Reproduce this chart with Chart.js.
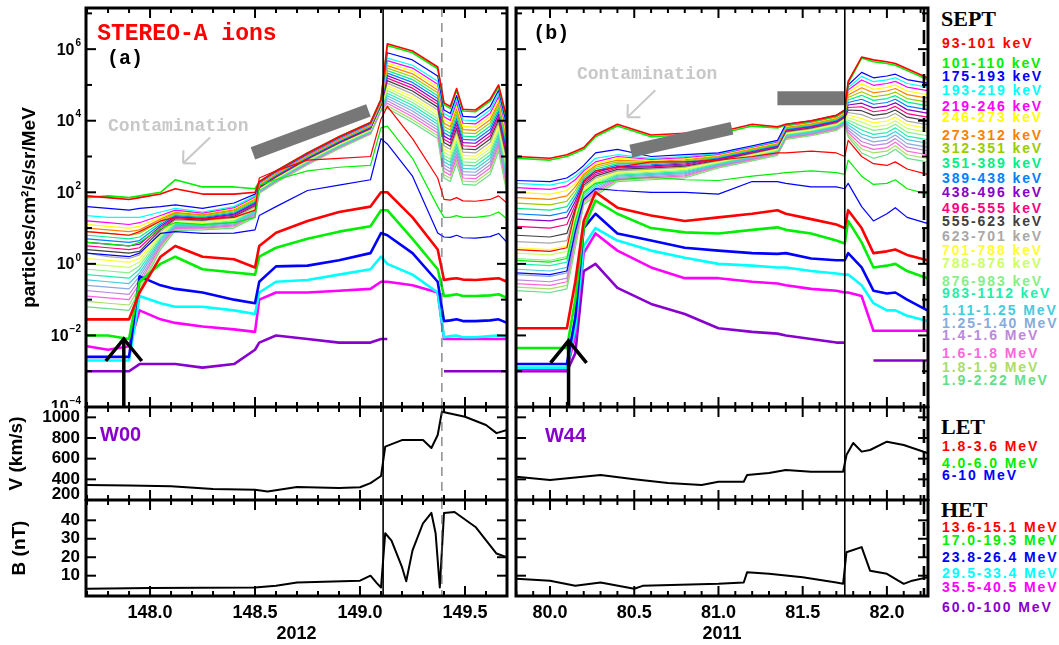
<!DOCTYPE html>
<html>
<head>
<meta charset="utf-8">
<title>STEREO-A ions</title>
<script src="https://cdn.jsdelivr.net/npm/chart.js@4.4.1/dist/chart.umd.min.js"></script>
<style>
  html, body { margin: 0; padding: 0; background: #fff; }
  body { position: relative; width: 1059px; height: 645px; overflow: hidden; }
  canvas { position: absolute; }
  .leg { position: absolute; left: 942px; font: bold 14px "Liberation Sans", Arial, sans-serif; letter-spacing: 1.9px; white-space: nowrap; line-height: 14px; }
  .hdr { position: absolute; left: 941px; font: bold 22px "Liberation Serif", serif; color: #000; line-height: 22px; }
</style>
</head>
<body>
<canvas id="aTop" width="510" height="408" style="left:0;top:0"></canvas>
<canvas id="aV" width="510" height="95" style="left:0;top:406px"></canvas>
<canvas id="aB" width="510" height="146" style="left:0;top:499px"></canvas>
<canvas id="bTop" width="420" height="408" style="left:510px;top:0"></canvas>
<canvas id="bV" width="420" height="95" style="left:510px;top:406px"></canvas>
<canvas id="bB" width="420" height="146" style="left:510px;top:499px"></canvas>
<div id="legend"></div>
<script>
// ---- channels ----
const septLabels = ['93-101 keV', '101-110 keV', '175-193 keV', '193-219 keV', '219-246 keV', '246-273 keV',
  '273-312 keV', '312-351 keV', '351-389 keV', '389-438 keV', '438-496 keV', '496-555 keV', '555-623 keV',
  '623-701 keV', '701-788 keV', '788-876 keV', '876-983 keV', '983-1112 keV', '1.11-1.25 MeV', '1.25-1.40 MeV',
  '1.4-1.6 MeV', '1.6-1.8 MeV', '1.8-1.9 MeV', '1.9-2.22 MeV'];
const septColors = ['#ff0000', '#00ee00', '#0000ff', '#00ffff', '#ff00ff', '#ffff00', '#ff8000', '#99cc00',
  '#00ee88', '#0080ff', '#8800cc', '#ff0080', '#404040', '#a8a8a8', '#ffff33', '#ccff66', '#88ee88', '#22eeaa',
  '#44ccdd', '#88aadd', '#bb88dd', '#ff66dd', '#aadd66', '#66dd88'];
const letLabels = ['1.8-3.6 MeV', '4.0-6.0 MeV', '6-10 MeV'];
const letColors = ['#ff0000', '#00ee00', '#0000ff'];
const hetLabels = ['13.6-15.1 MeV', '17.0-19.3 MeV', '23.8-26.4 MeV', '29.5-33.4 MeV', '35.5-40.5 MeV', '60.0-100 MeV'];
const hetColors = ['#ff0000', '#00ee00', '#0000ff', '#00ffff', '#ff00ff', '#8800cc'];

// ---- panel (a), 2012 DOY; fluxes stored as log10 ----
const timeA = [147.70, 147.80, 147.90, 147.95, 148.05, 148.12, 148.25, 148.40, 148.50, 148.52, 148.60, 148.75,
  148.90, 149.05, 149.10, 149.13, 149.25, 149.37, 149.40, 149.43, 149.46, 149.49, 149.55, 149.62, 149.66, 149.70];
const septA = [
  [1.9, 1.85, 1.8, 1.85, 1.95, 2.1, 1.95, 1.95, 2.0, 2.3, 2.6, 3.1, 3.55, 3.95, 4.6, 6.15, 5.95, 5.5, 4.5, 4.4, 4.9, 4.32, 4.3, 4.6, 5.0, 4.05],
  [1.85, 1.9, 1.85, 1.9, 2.0, 2.35, 2.15, 2.15, 2.1, 2.3, 2.6, 3.1, 3.55, 3.95, 4.6, 6.1, 5.9, 5.45, 4.45, 4.35, 4.85, 4.27, 4.25, 4.55, 4.95, 4.0],
  [1.6, 1.55, 1.5, 1.55, 1.6, 1.65, 1.55, 1.7, 1.95, 2.28, 2.58, 3.08, 3.53, 3.93, 4.58, 5.9, 5.7, 5.25, 4.3, 4.2, 4.7, 4.12, 4.1, 4.4, 4.85, 3.85],
  [1.35, 1.3, 1.3, 1.3, 1.45, 1.55, 1.45, 1.6, 1.9, 2.27, 2.57, 3.07, 3.52, 3.92, 4.57, 5.75, 5.55, 5.1, 4.2, 4.1, 4.6, 4.02, 4.0, 4.3, 4.75, 3.75],
  [1.2, 1.15, 1.1, 1.15, 1.35, 1.5, 1.42, 1.57, 1.87, 2.25, 2.55, 3.05, 3.5, 3.9, 4.55, 5.68, 5.47, 5.02, 4.11, 4.01, 4.51, 3.93, 3.91, 4.21, 4.67, 3.66],
  [1.1, 1.05, 1.0, 1.05, 1.3, 1.47, 1.4, 1.54, 1.84, 2.24, 2.54, 3.04, 3.49, 3.89, 4.54, 5.61, 5.39, 4.94, 4.02, 3.92, 4.42, 3.84, 3.82, 4.12, 4.59, 3.57],
  [1.0, 0.95, 0.9, 0.95, 1.25, 1.44, 1.37, 1.51, 1.81, 2.22, 2.52, 3.02, 3.47, 3.87, 4.52, 5.54, 5.31, 4.86, 3.93, 3.83, 4.33, 3.75, 3.73, 4.03, 4.51, 3.48],
  [0.9, 0.85, 0.8, 0.85, 1.2, 1.41, 1.35, 1.48, 1.78, 2.21, 2.51, 3.01, 3.46, 3.86, 4.51, 5.47, 5.23, 4.78, 3.84, 3.74, 4.24, 3.66, 3.64, 3.94, 4.43, 3.39],
  [0.8, 0.75, 0.7, 0.75, 1.15, 1.38, 1.32, 1.45, 1.75, 2.19, 2.49, 2.99, 3.44, 3.84, 4.49, 5.4, 5.15, 4.7, 3.75, 3.65, 4.15, 3.57, 3.55, 3.85, 4.35, 3.3],
  [0.7, 0.65, 0.6, 0.65, 1.1, 1.35, 1.3, 1.42, 1.72, 2.18, 2.48, 2.98, 3.43, 3.83, 4.48, 5.33, 5.07, 4.62, 3.66, 3.56, 4.06, 3.48, 3.46, 3.76, 4.27, 3.21],
  [0.6, 0.55, 0.5, 0.55, 1.05, 1.32, 1.27, 1.39, 1.69, 2.16, 2.46, 2.96, 3.41, 3.81, 4.46, 5.26, 4.99, 4.54, 3.57, 3.47, 3.97, 3.39, 3.37, 3.67, 4.19, 3.12],
  [0.5, 0.45, 0.4, 0.45, 1.0, 1.29, 1.25, 1.36, 1.66, 2.15, 2.45, 2.95, 3.4, 3.8, 4.45, 5.19, 4.91, 4.46, 3.48, 3.38, 3.88, 3.3, 3.28, 3.58, 4.11, 3.03],
  [0.4, 0.35, 0.3, 0.35, 0.95, 1.26, 1.22, 1.33, 1.63, 2.13, 2.43, 2.93, 3.38, 3.78, 4.43, 5.12, 4.83, 4.38, 3.39, 3.29, 3.79, 3.21, 3.19, 3.49, 4.03, 2.94],
  [0.3, 0.2, 0.15, 0.25, 0.9, 1.23, 1.2, 1.3, 1.6, 2.12, 2.42, 2.92, 3.37, 3.77, 4.42, 5.05, 4.75, 4.3, 3.3, 3.2, 3.7, 3.12, 3.1, 3.4, 3.95, 2.85],
  [0.15, 0.1, 0.05, 0.15, 0.85, 1.2, 1.17, 1.27, 1.57, 2.1, 2.4, 2.9, 3.35, 3.75, 4.4, 4.98, 4.67, 4.22, 3.21, 3.11, 3.61, 3.03, 3.01, 3.31, 3.87, 2.76],
  [0.0, -0.05, -0.1, 0.05, 0.8, 1.17, 1.15, 1.24, 1.54, 2.09, 2.39, 2.89, 3.34, 3.74, 4.39, 4.91, 4.59, 4.14, 3.12, 3.02, 3.52, 2.94, 2.92, 3.22, 3.79, 2.67],
  [-0.15, -0.2, -0.25, -0.05, 0.75, 1.14, 1.12, 1.21, 1.51, 2.07, 2.37, 2.87, 3.32, 3.72, 4.37, 4.84, 4.51, 4.06, 3.03, 2.93, 3.43, 2.85, 2.83, 3.13, 3.71, 2.58],
  [-0.3, -0.35, -0.4, -0.15, 0.7, 1.11, 1.1, 1.18, 1.48, 2.06, 2.36, 2.86, 3.31, 3.71, 4.36, 4.77, 4.43, 3.98, 2.94, 2.84, 3.34, 2.76, 2.74, 3.04, 3.63, 2.49],
  [-0.45, -0.5, -0.55, -0.25, 0.65, 1.08, 1.07, 1.15, 1.45, 2.04, 2.34, 2.84, 3.29, 3.69, 4.34, 4.7, 4.35, 3.9, 2.85, 2.75, 3.25, 2.67, 2.65, 2.95, 3.55, 2.4],
  [-0.6, -0.65, -0.7, -0.35, 0.6, 1.05, 1.05, 1.12, 1.42, 2.03, 2.33, 2.83, 3.28, 3.68, 4.33, 4.63, 4.27, 3.82, 2.76, 2.66, 3.16, 2.58, 2.56, 2.86, 3.47, 2.31],
  [-0.75, -0.8, -0.85, -0.45, 0.55, 1.02, 1.02, 1.09, 1.39, 2.01, 2.31, 2.81, 3.26, 3.66, 4.31, 4.56, 4.19, 3.74, 2.67, 2.57, 3.07, 2.49, 2.47, 2.77, 3.39, 2.22],
  [-0.9, -0.95, -1.0, -0.55, 0.5, 0.99, 1.0, 1.06, 1.36, 2.0, 2.3, 2.8, 3.25, 3.65, 4.3, 4.49, 4.11, 3.66, 2.58, 2.48, 2.98, 2.4, 2.38, 2.68, 3.31, 2.13],
  [-1.05, -1.1, -1.15, -0.65, 0.45, 0.96, 0.97, 1.03, 1.33, 1.98, 2.28, 2.78, 3.23, 3.63, 4.28, 4.42, 4.03, 3.58, 2.49, 2.39, 2.89, 2.31, 2.29, 2.59, 3.23, 2.04],
  [-1.2, -1.25, -1.3, -0.75, 0.4, 0.93, 0.95, 1.0, 1.3, 1.97, 2.27, 2.77, 3.22, 3.62, 4.27, 4.35, 3.95, 3.5, 2.4, 2.3, 2.8, 2.22, 2.2, 2.5, 3.15, 1.95]
];
const letA = [
  [0.9, 0.85, 0.8, 0.9, 1.2, 1.3, 1.25, 1.3, 1.5, 2.4, 2.6, 2.9, 2.95, 3.0, 4.05, 4.4, 3.5, 2.4, 1.8, 1.78, 1.85, 1.76, 1.75, 1.8, 1.9, 1.7],
  [0.6, 0.55, 0.5, 0.6, 1.0, 1.15, 1.1, 1.15, 1.3, 2.2, 2.35, 2.6, 2.7, 2.75, 3.8, 3.85, 2.95, 1.6, 1.3, 1.3, 1.35, 1.3, 1.3, 1.35, 1.45, 1.25],
  [0.3, 0.25, 0.2, 0.3, 0.85, 0.9, 0.85, 0.86, 0.95, 1.35, 1.6, 2.05, 2.2, 2.35, 3.5, 3.35, 2.45, 0.86, 0.75, 0.74, 0.8, 0.73, 0.72, 0.76, 0.85, 0.6]
];
const hetA = [
  [-1.55, -1.55, -1.55, -0.8, 0.2, 0.5, 0.2, 0.13, -0.1, 0.5, 0.87, 1.2, 1.45, 1.6, 2.0, 2.0, 1.3, 0.4, -0.45, -0.42, -0.4, -0.44, -0.45, -0.42, -0.4, -0.5],
  [-2.0, -2.0, -2.1, -0.5, 0.0, 0.2, -0.15, -0.24, -0.3, 0.2, 0.45, 0.7, 0.9, 1.05, 1.5, 1.5, 0.7, -0.15, -0.9, -0.88, -0.85, -0.9, -0.9, -0.88, -0.85, -0.95],
  [-2.6, -2.6, -2.6, -0.35, -0.6, -0.7, -0.8, -1.0, -1.1, -0.5, -0.07, -0.05, 0.1, 0.3, 0.86, 0.8, 0.3, -0.5, -1.6, -1.58, -1.55, -1.6, -1.6, -1.58, -1.55, -1.65],
  [-2.7, -2.7, -2.7, -0.9, -1.1, -1.2, -1.2, -1.3, -1.4, -0.8, -0.5, -0.45, -0.3, -0.15, 0.2, 0.0, -0.3, -0.8, -2.05, -2.02, -2.0, -2.05, -2.05, -2.02, -2.0, -2.05],
  [-2.3, -2.4, -2.3, -1.3, -1.55, -1.65, -1.75, -1.83, -1.9, -1.0, -0.8, -0.8, -0.75, -0.7, -0.5, -0.5, -0.6, -0.8, -2.1, -2.1, -2.1, -2.1, -2.1, -2.1, -2.1, -2.1],
  [-3.0, -3.0, -3.0, -2.8, -2.8, -2.8, -2.9, -2.8, -2.4, -2.2, -2.0, -2.1, -2.2, -2.2, -2.1, -2.1, null, null, -3.0, -3.0, -3.0, -3.0, -3.0, -3.0, -3.0, -3.0]
];
const timeVa = [147.70, 147.90, 148.10, 148.30, 148.50, 148.56, 148.70, 148.90, 149.00, 149.05, 149.10, 149.12,
  149.20, 149.30, 149.34, 149.37, 149.39, 149.50, 149.60, 149.65, 149.70];
const speedA = [345, 340, 332, 306, 300, 282, 326, 316, 323, 364, 432, 716, 780, 780, 703, 829, 1055, 1006, 926, 847, 877];
const timeBa = [147.70, 148.00, 148.50, 148.60, 148.70, 149.00, 149.05, 149.08, 149.10, 149.12, 149.15, 149.20,
  149.22, 149.25, 149.30, 149.34, 149.36, 149.38, 149.40, 149.45, 149.55, 149.65, 149.70];
const fieldA = [2.9, 3.4, 3.6, 4.5, 6.3, 7.3, 10, 6, 3.6, 33, 29, 14.6, 7, 23.7, 38.4, 44, 33, 3.6, 44, 44.5, 36.4, 22, 20];

// ---- panel (b), 2011 DOY ----
const timeB = [79.80, 80.00, 80.10, 80.15, 80.20, 80.27, 80.40, 80.60, 80.80, 81.00, 81.20, 81.35, 81.40, 81.55,
  81.70, 81.75, 81.77, 81.85, 81.92, 82.00, 82.05, 82.12, 82.24];
const septB = [
  [3.0, 2.95, 3.05, 3.15, 3.25, 3.6, 3.9, 3.6, 3.65, 3.68, 3.9, 3.83, 3.9, 4.0, 4.15, 4.3, 5.1, 5.78, 5.7, 5.65, 5.6, 5.45, 5.2],
  [2.95, 2.9, 3.0, 3.1, 3.2, 3.55, 3.85, 3.55, 3.6, 3.63, 3.85, 3.8, 3.88, 3.98, 4.12, 4.28, 5.05, 5.75, 5.65, 5.6, 5.55, 5.4, 5.15],
  [2.33, 2.3, 2.4, 2.55, 2.75, 3.1, 3.2, 3.0, 3.05, 3.1, 3.3, 3.45, 3.9, 4.0, 4.15, 4.3, 5.0, 5.35, 5.2, 5.25, 5.3, 5.15, 5.05],
  [2.25, 2.2, 2.3, 2.45, 2.65, 2.95, 3.05, 2.95, 3.0, 3.08, 3.28, 3.43, 3.88, 3.98, 4.13, 4.28, 4.93, 5.24, 5.09, 5.14, 5.2, 5.04, 4.94],
  [2.13, 2.08, 2.18, 2.35, 2.6, 2.85, 3.0, 2.92, 2.97, 3.06, 3.26, 3.41, 3.86, 3.96, 4.11, 4.26, 4.86, 5.14, 4.99, 5.04, 5.1, 4.94, 4.84],
  [2.0, 1.95, 2.05, 2.25, 2.55, 2.8, 2.95, 2.89, 2.94, 3.04, 3.24, 3.39, 3.84, 3.94, 4.09, 4.24, 4.79, 5.03, 4.88, 4.93, 5.0, 4.83, 4.73],
  [1.85, 1.8, 1.9, 2.15, 2.5, 2.75, 2.9, 2.86, 2.91, 3.02, 3.22, 3.37, 3.82, 3.92, 4.07, 4.22, 4.72, 4.92, 4.78, 4.83, 4.9, 4.73, 4.63],
  [1.7, 1.65, 1.75, 2.05, 2.45, 2.7, 2.85, 2.83, 2.88, 3.0, 3.2, 3.35, 3.8, 3.9, 4.05, 4.2, 4.65, 4.81, 4.67, 4.72, 4.8, 4.62, 4.52],
  [1.55, 1.5, 1.6, 1.95, 2.4, 2.65, 2.8, 2.8, 2.85, 2.98, 3.18, 3.33, 3.78, 3.88, 4.03, 4.18, 4.58, 4.71, 4.57, 4.62, 4.7, 4.52, 4.42],
  [1.4, 1.35, 1.45, 1.85, 2.35, 2.6, 2.76, 2.77, 2.82, 2.96, 3.16, 3.31, 3.76, 3.86, 4.01, 4.16, 4.51, 4.6, 4.46, 4.51, 4.6, 4.41, 4.31],
  [1.25, 1.2, 1.3, 1.75, 2.3, 2.55, 2.72, 2.74, 2.79, 2.94, 3.14, 3.29, 3.74, 3.84, 3.99, 4.14, 4.44, 4.49, 4.36, 4.41, 4.5, 4.31, 4.21],
  [1.05, 1.0, 1.1, 1.65, 2.25, 2.5, 2.68, 2.71, 2.76, 2.92, 3.12, 3.27, 3.72, 3.82, 3.97, 4.12, 4.37, 4.39, 4.25, 4.3, 4.4, 4.2, 4.1],
  [0.8, 0.75, 0.85, 1.55, 2.2, 2.45, 2.64, 2.68, 2.73, 2.9, 3.1, 3.25, 3.7, 3.8, 3.95, 4.1, 4.3, 4.28, 4.15, 4.2, 4.3, 4.1, 4.0],
  [0.62, 0.58, 0.65, 1.45, 2.15, 2.4, 2.6, 2.65, 2.7, 2.88, 3.08, 3.23, 3.68, 3.78, 3.93, 4.08, 4.23, 4.17, 4.04, 4.09, 4.2, 3.99, 3.89],
  [0.45, 0.4, 0.5, 1.35, 2.1, 2.35, 2.57, 2.62, 2.67, 2.86, 3.06, 3.21, 3.66, 3.76, 3.91, 4.06, 4.16, 4.06, 3.94, 3.99, 4.1, 3.89, 3.79],
  [0.3, 0.25, 0.35, 1.25, 2.05, 2.3, 2.54, 2.59, 2.64, 2.84, 3.04, 3.19, 3.64, 3.74, 3.89, 4.04, 4.09, 3.96, 3.83, 3.88, 4.0, 3.78, 3.68],
  [0.15, 0.1, 0.2, 1.15, 2.0, 2.25, 2.51, 2.56, 2.61, 2.82, 3.02, 3.17, 3.62, 3.72, 3.87, 4.02, 4.02, 3.85, 3.73, 3.78, 3.9, 3.68, 3.58],
  [0.0, -0.05, 0.05, 1.05, 1.95, 2.2, 2.48, 2.53, 2.58, 2.8, 3.0, 3.15, 3.6, 3.7, 3.85, 4.0, 3.95, 3.74, 3.62, 3.67, 3.8, 3.57, 3.47],
  [-0.15, -0.2, -0.1, 0.95, 1.9, 2.15, 2.45, 2.5, 2.55, 2.78, 2.98, 3.13, 3.58, 3.68, 3.83, 3.98, 3.88, 3.63, 3.52, 3.57, 3.7, 3.47, 3.37],
  [-0.3, -0.35, -0.25, 0.85, 1.85, 2.1, 2.42, 2.47, 2.52, 2.76, 2.96, 3.11, 3.56, 3.66, 3.81, 3.96, 3.81, 3.53, 3.41, 3.46, 3.6, 3.36, 3.26],
  [-0.45, -0.5, -0.4, 0.75, 1.8, 2.05, 2.39, 2.44, 2.49, 2.74, 2.94, 3.09, 3.54, 3.64, 3.79, 3.94, 3.74, 3.42, 3.31, 3.36, 3.5, 3.26, 3.16],
  [-0.55, -0.6, -0.5, 0.65, 1.75, 2.0, 2.36, 2.41, 2.46, 2.72, 2.92, 3.07, 3.52, 3.62, 3.77, 3.92, 3.67, 3.31, 3.2, 3.25, 3.4, 3.15, 3.05],
  [-0.65, -0.7, -0.6, 0.55, 1.7, 1.95, 2.33, 2.38, 2.43, 2.7, 2.9, 3.05, 3.5, 3.6, 3.75, 3.9, 3.6, 3.21, 3.1, 3.15, 3.3, 3.05, 2.95],
  [-0.75, -0.8, -0.7, 0.45, 1.65, 1.9, 2.3, 2.35, 2.4, 2.68, 2.88, 3.03, 3.48, 3.58, 3.73, 3.88, 3.55, 3.1, 2.95, 3.05, 3.2, 2.95, 2.85]
];
const letB = [
  [0.4, 0.35, 0.45, 1.5, 2.3, 2.6, 2.7, 2.85, 2.85, 2.9, 3.0, 3.1, 3.1, 3.15, 3.1, 3.0, 3.45, 3.0, 2.8, 2.75, 2.85, 2.65, 2.5],
  [0.1, 0.05, 0.15, 1.2, 2.0, 2.25, 2.35, 2.42, 2.35, 2.33, 2.45, 2.52, 2.55, 2.6, 2.55, 2.5, 2.9, 2.45, 2.22, 2.25, 2.35, 2.1, 1.95],
  [-0.25, -0.3, -0.2, 0.9, 1.8, 2.1, 2.05, 2.0, 2.0, 1.95, 2.3, 2.3, 2.25, 2.15, 2.15, 2.1, 2.25, 1.6, 1.2, 1.4, 1.57, 1.3, 1.13]
];
const hetB = [
  [-1.8, -1.8, -1.8, -0.5, 1.2, 2.0, 1.57, 1.35, 1.2, 1.3, 1.4, 1.5, 1.4, 1.25, 1.1, 1.0, 1.5, 1.0, 0.3, 0.35, 0.4, 0.25, 0.1],
  [-2.35, -2.35, -2.35, -1.0, 1.0, 1.77, 1.4, 1.0, 0.88, 0.85, 0.95, 1.02, 0.95, 0.85, 0.65, 0.57, 1.2, 0.6, -0.1, -0.05, 0.0, -0.2, -0.4],
  [-2.8, -2.8, -2.8, -1.5, 1.0, 1.4, 0.85, 0.65, 0.45, 0.37, 0.3, 0.28, 0.3, 0.15, 0.1, 0.1, 0.3, -0.1, -0.75, -0.83, -0.8, -1.0, -1.3],
  [-2.9, -2.9, -2.9, -1.8, 0.5, 1.0, 0.65, 0.37, 0.17, 0.0, -0.05, -0.1, -0.1, -0.2, -0.27, -0.3, -0.3, -0.6, -1.1, -1.3, -1.3, -1.45, -1.6],
  [-2.95, -2.95, -2.95, -2.0, 0.3, 0.85, 0.37, -0.1, -0.4, -0.4, -0.5, -0.55, -0.6, -0.7, -0.75, -0.8, -0.8, -0.9, -1.87, -1.87, -1.87, -1.87, -1.87],
  [-3.0, -3.0, -3.0, -2.5, -0.2, 0.0, -0.67, -1.12, -1.4, -1.8, -1.9, -1.95, -2.0, -2.1, -2.2, -2.2, null, null, -2.7, -2.7, -2.7, -2.7, -2.7]
];
const timeVb = [79.80, 80.00, 80.30, 80.50, 80.70, 80.90, 81.00, 81.15, 81.17, 81.30, 81.40, 81.55, 81.74, 81.76,
  81.80, 81.85, 81.90, 82.00, 82.10, 82.24];
const speedB = [425, 394, 442, 400, 365, 345, 377, 377, 442, 461, 490, 474, 474, 636, 752, 668, 684, 764, 732, 655];
const timeBb = [79.80, 80.00, 80.15, 80.30, 80.50, 80.55, 81.00, 81.15, 81.17, 81.30, 81.50, 81.70, 81.74, 81.76,
  81.85, 81.90, 82.00, 82.10, 82.15, 82.24];
const fieldB = [8.4, 7.3, 4.5, 6.3, 2.9, 4.5, 5.6, 6.3, 11.8, 11, 9.1, 6.3, 5.6, 22.7, 25.5, 12.7, 11, 5.6, 7.3, 9.1];

// ---- tick values ----
const xTicksA = [148.0, 148.5, 149.0, 149.5];
const xTicksB = [80.0, 80.5, 81.0, 81.5, 82.0];
const speedTicks = [200, 400, 600, 800, 1000];
const fieldTicks = [10, 20, 30, 40];
const logLabelExps = [-4, -2, 0, 2, 4, 6];

// ---- helpers ----
const SANS = '"Liberation Sans", Arial, sans-serif';
const MONO = '"Liberation Mono", "Courier New", monospace';
const font = (size) => ({ family: SANS, size, weight: 'bold' });
const logPts = (t, v) => t.map((x, i) => ({ x, y: v[i] == null ? null : Math.pow(10, v[i]) }));
const linPts = (t, v) => t.map((x, i) => ({ x, y: v[i] }));

function fluxSets(t, sept, lets, het) {
  const ds = [];
  het.forEach((r, i) => ds.push({ label: hetLabels[i], data: logPts(t, r), borderColor: hetColors[i], borderWidth: 2.6 }));
  lets.forEach((r, i) => ds.push({ label: letLabels[i], data: logPts(t, r), borderColor: letColors[i], borderWidth: 1.2 }));
  sept.forEach((r, i) => ds.push({ label: septLabels[i], data: logPts(t, r), borderColor: septColors[i], borderWidth: i < 2 ? 1.6 : 1.2 }));
  return ds;
}

const logTicks = [];
for (let e = -4; e <= 7; e++) logTicks.push([Math.pow(10, e), e % 2 === 0 ? 10 : 6]);

function deco(cfg) {
  return {
    id: 'deco',
    afterDraw(chart) {
      const c = chart.ctx, a = chart.chartArea, sx = chart.scales.x, sy = chart.scales.y;
      const X = v => sx.getPixelForValue(v), Y = v => sy.getPixelForValue(v);
      const seg = (x0, y0, x1, y1) => { c.beginPath(); c.moveTo(x0, y0); c.lineTo(x1, y1); c.stroke(); };

      c.save();
      c.beginPath(); c.rect(a.left, a.top, a.right - a.left, a.bottom - a.top); c.clip();
      (cfg.bars || []).forEach(b => {
        c.strokeStyle = '#777'; c.lineWidth = b.w; c.lineCap = 'butt';
        seg(X(b.x0), Y(b.y0), X(b.x1), Y(b.y1));
      });
      (cfg.vlines || []).forEach(l => {
        c.strokeStyle = l.color; c.lineWidth = l.w; c.setLineDash(l.dash || []);
        seg(X(l.x), a.top, X(l.x), a.bottom);
      });
      c.setLineDash([]);
      if (cfg.arrow) {
        const px = X(cfg.arrow.x), tip = Y(cfg.arrow.tip);
        c.strokeStyle = '#000'; c.lineWidth = 3.5;
        seg(px, a.bottom, px, tip + 2);
        c.beginPath(); c.moveTo(px - 18, tip + 22); c.lineTo(px, tip); c.lineTo(px + 18, tip + 22); c.stroke();
      }
      if (cfg.pointer) {
        const p = cfg.pointer, x0 = X(p.x0), y0 = Y(p.y0), x1 = X(p.x1), y1 = Y(p.y1);
        c.strokeStyle = '#c8c8c8'; c.lineWidth = 2;
        seg(x0, y0, x1, y1);
        const ang = Math.atan2(y0 - y1, x0 - x1);
        [-0.78, 0.78].forEach(d => seg(x1, y1, x1 + 13 * Math.cos(ang + d), y1 + 13 * Math.sin(ang + d)));
      }
      (cfg.texts || []).forEach(t => {
        c.font = t.font; c.fillStyle = t.color; c.textAlign = 'left'; c.textBaseline = 'middle';
        c.fillText(t.text, X(t.x), Y(t.y));
      });
      c.restore();

      // frame with inward ticks
      c.save();
      c.strokeStyle = '#000'; c.lineWidth = 3;
      c.strokeRect(a.left, a.top, a.right - a.left, a.bottom - a.top);
      c.lineWidth = 2;
      for (let k = Math.ceil(sx.min * 10 - 1e-6); k <= sx.max * 10 + 1e-6; k++) {
        const px = X(k / 10), len = k % 5 === 0 ? 10 : 5;
        seg(px, a.top, px, a.top + len);
        seg(px, a.bottom, px, a.bottom - len);
      }
      (cfg.yTicks || []).forEach(([v, len]) => {
        const py = Y(v);
        if (py < a.top + 1 || py > a.bottom - 1) return;
        seg(a.left, py, a.left + len, py);
        seg(a.right, py, a.right - len, py);
      });
      c.fillStyle = '#000';
      if (cfg.logLabels) {
        logLabelExps.forEach(e => {
          const py = Y(Math.pow(10, e));
          const sup = e < 0 ? '\u2212' + (-e) : String(e);
          c.font = 'bold 10px ' + SANS;
          const w = c.measureText(sup).width;
          c.textAlign = 'left'; c.textBaseline = 'middle';
          c.fillText(sup, a.left - 5 - w, py - 6);
          c.font = 'bold 16px ' + SANS;
          c.textAlign = 'right';
          c.fillText('10', a.left - 6 - w, py + 1);
        });
      }
      if (cfg.yLabels) {
        c.font = 'bold 17px ' + SANS; c.textAlign = 'right'; c.textBaseline = 'middle';
        cfg.yLabels.forEach(v => c.fillText(String(v), a.left - 6, Math.min(Y(v), a.bottom - 6)));
      }
      if (cfg.title) {
        c.translate(cfg.title.x, (a.top + a.bottom) / 2);
        c.rotate(-Math.PI / 2);
        c.font = 'bold 19px ' + SANS; c.textAlign = 'center'; c.textBaseline = 'middle';
        c.fillText(cfg.title.text, 0, 0);
      }
      c.restore();
    }
  };
}

function panel(id, datasets, x, y, pad, cfg) {
  return new Chart(document.getElementById(id), {
    type: 'line',
    data: { datasets },
    options: {
      responsive: false, animation: false, events: [],
      layout: { padding: pad },
      elements: { point: { radius: 0 }, line: { tension: 0, borderJoinStyle: 'round' } },
      plugins: { legend: { display: false }, tooltip: { enabled: false } },
      scales: { x, y }
    },
    plugins: [deco(cfg)]
  });
}

const xHidden = (min, max) => ({ type: 'linear', min, max, display: false });
const xShown = (min, max, ticks, year) => ({
  type: 'linear', min, max,
  afterBuildTicks: s => { s.ticks = ticks.map(value => ({ value })); },
  ticks: { callback: v => v.toFixed(1), font: font(18), color: '#000', padding: 6, maxRotation: 0, autoSkip: false },
  grid: { display: false, drawTicks: false }, border: { display: false },
  title: { display: true, text: year, font: font(18), color: '#000', padding: { top: 1, bottom: 0 } },
  afterFit: s => { s.height = 49; }
});
const yLog = () => ({ type: 'logarithmic', min: 1e-4, max: Math.pow(10, 7.15), display: false });
const yLin = (min, max) => ({ type: 'linear', min, max, display: false });
const blackLine = (t, v) => [{ data: linPts(t, v), borderColor: '#000', borderWidth: 2 }];

const rangeA = [147.695, 149.70], rangeB = [79.798, 82.244];
const linesA = [{ x: 149.11, color: '#000', w: 1.6 }, { x: 149.39, color: '#555', w: 1, dash: [9, 6] }];
const linesB = [{ x: 81.75, color: '#000', w: 1.6 }, { x: 82.22, color: '#000', w: 2.6, dash: [14, 8] }];
const speedTickLens = speedTicks.map(v => [v, 10]);
const fieldTickLens = fieldTicks.map(v => [v, 10]);

// panel (a)
panel('aTop', fluxSets(timeA, septA, letA, hetA), xHidden(...rangeA), yLog(),
  { top: 8, left: 86, right: 3, bottom: 1 }, {
    yTicks: logTicks, logLabels: true, vlines: linesA,
    title: { text: 'particles/cm\u00b2/s/sr/MeV', x: 30 },
    bars: [{ x0: 148.49, y0: Math.pow(10, 3.09), x1: 149.04, y1: Math.pow(10, 4.29), w: 13 }],
    arrow: { x: 147.875, tip: Math.pow(10, -2.1) },
    pointer: { x0: 148.286, y0: Math.pow(10, 3.53), x1: 148.157, y1: Math.pow(10, 2.81) },
    texts: [
      { text: 'STEREO-A ions', x: 147.748, y: Math.pow(10, 6.42), font: 'bold 23px ' + MONO, color: '#ff0000' },
      { text: '(a)', x: 147.795, y: Math.pow(10, 5.72), font: 'bold 20px ' + MONO, color: '#000' },
      { text: 'Contamination', x: 147.80, y: Math.pow(10, 3.84), font: 'bold 18px ' + MONO, color: '#c8c8c8' }
    ]
  });
panel('aV', blackLine(timeVa, speedA), xHidden(...rangeA), yLin(200, 1100),
  { top: 1, left: 86, right: 3, bottom: 1 }, {
    yTicks: speedTickLens, yLabels: speedTicks, vlines: linesA, title: { text: 'V (km/s)', x: 17 },
    texts: [{ text: 'W00', x: 147.762, y: 829, font: 'bold 20px ' + SANS, color: '#8800cc' }]
  });
panel('aB', blackLine(timeBa, fieldA), xShown(...rangeA, xTicksA, '2012'), yLin(-1, 51),
  { top: 1, left: 86, right: 3, bottom: 0 }, {
    yTicks: fieldTickLens, yLabels: fieldTicks, vlines: linesA, title: { text: 'B (nT)', x: 20 }
  });

// panel (b)
panel('bTop', fluxSets(timeB, septB, letB, hetB), xHidden(...rangeB), yLog(),
  { top: 8, left: 6, right: 2, bottom: 1 }, {
    yTicks: logTicks, vlines: linesB,
    bars: [
      { x0: 80.48, y0: Math.pow(10, 3.15), x1: 81.08, y1: Math.pow(10, 3.79), w: 13 },
      { x0: 81.35, y0: Math.pow(10, 4.63), x1: 81.745, y1: Math.pow(10, 4.63), w: 14 }
    ],
    arrow: { x: 80.11, tip: Math.pow(10, -2.15) },
    pointer: { x0: 80.625, y0: Math.pow(10, 4.85), x1: 80.46, y1: Math.pow(10, 4.1) },
    texts: [
      { text: '(b)', x: 79.90, y: Math.pow(10, 6.42), font: 'bold 20px ' + MONO, color: '#000' },
      { text: 'Contamination', x: 80.16, y: Math.pow(10, 5.30), font: 'bold 18px ' + MONO, color: '#c8c8c8' }
    ]
  });
panel('bV', blackLine(timeVb, speedB), xHidden(...rangeB), yLin(200, 1100),
  { top: 1, left: 6, right: 2, bottom: 1 }, {
    yTicks: speedTickLens, vlines: linesB,
    texts: [{ text: 'W44', x: 79.97, y: 819, font: 'bold 20px ' + SANS, color: '#8800cc' }]
  });
panel('bB', blackLine(timeBb, fieldB), xShown(...rangeB, xTicksB, '2011'), yLin(-1, 51),
  { top: 1, left: 6, right: 2, bottom: 0 }, {
    yTicks: fieldTickLens, vlines: linesB
  });

// ---- legend on the right ----
const septRows = [43, 63, 76, 90, 106, 117, 135, 148, 163, 178, 192, 208, 221, 236, 250, 263, 281, 293, 310, 323, 335, 353, 367, 380];
const letRows = [446, 463, 475];
const hetRows = [527, 540, 557, 573, 587, 607];
const legend = document.getElementById('legend');
function addText(cls, text, color, cy, half) {
  const d = document.createElement('div');
  d.className = cls; d.textContent = text; d.style.top = (cy - half) + 'px';
  if (color) d.style.color = color;
  legend.appendChild(d);
}
addText('hdr', 'SEPT', null, 19, 11);
septLabels.forEach((s, i) => addText('leg', s, septColors[i], septRows[i], 7));
addText('hdr', 'LET', null, 427, 11);
letLabels.forEach((s, i) => addText('leg', s, letColors[i], letRows[i], 7));
addText('hdr', 'HET', null, 510, 11);
hetLabels.forEach((s, i) => addText('leg', s, hetColors[i], hetRows[i], 7));
</script>
</body>
</html>
